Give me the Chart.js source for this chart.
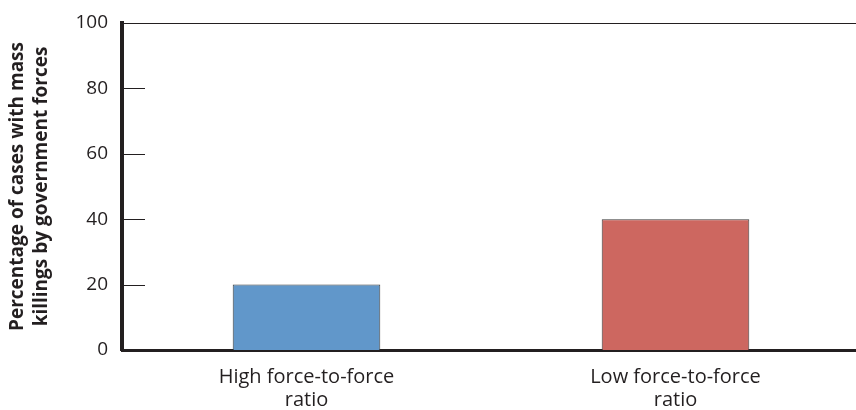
<!DOCTYPE html>
<html>
<head>
<meta charset="utf-8">
<script src="https://cdn.jsdelivr.net/npm/chart.js@4.4.1/dist/chart.umd.min.js"></script>
<style>
  html, body { margin: 0; padding: 0; background: #fff; overflow: hidden; }
  #wrap { width: 860px; height: 410px; }
</style>
</head>
<body>
<div id="wrap"><canvas id="grafico"></canvas></div>
<script>
// datos
const categorias = [["High force-to-force", "ratio"], ["Low force-to-force", "ratio"]];
const porcentajes = [20, 40];
const colores = ["#6197ca", "#cd6760"];
const ticksY = [0, 20, 40, 60, 80, 100];

const tinta = "#231f20";

// marcas cortas hacia adentro y linea superior
const marcasInternas = {
  id: "marcasInternas",
  afterDraw(chart) {
    const { ctx, chartArea, scales } = chart;
    const y = scales.y;
    ctx.save();
    ctx.strokeStyle = tinta;
    ctx.lineWidth = 1;
    ticksY.forEach(v => {
      if (v === 0) return;
      const py = Math.round(y.getPixelForValue(v)) + 0.5;
      ctx.beginPath();
      ctx.moveTo(chartArea.left, py);
      ctx.lineTo(v === 100 ? chart.width : chartArea.left + 23, py);
      ctx.stroke();
    });
    ctx.restore();
  }
};

new Chart(document.getElementById("grafico"), {
  type: "bar",
  data: {
    labels: categorias,
    datasets: [{
      data: porcentajes,
      backgroundColor: colores,
      borderColor: "#3a3a3a",
      borderWidth: 1,
      barPercentage: 0.4,
      categoryPercentage: 1
    }]
  },
  options: {
    responsive: true,
    maintainAspectRatio: false,
    animation: false,
    layout: { padding: { top: 23, left: 0, right: 0, bottom: 0 } },
    plugins: {
      legend: { display: false },
      tooltip: { enabled: false }
    },
    scales: {
      x: {
        afterFit: s => { s.height = 60; },
        grid: { display: false },
        border: { display: true, color: tinta, width: 3 },
        ticks: {
          color: tinta,
          padding: 8,
          font: { family: "Open Sans", size: 20, lineHeight: 1.15 },
          maxRotation: 0
        }
      },
      y: {
        min: 0,
        max: 100,
        afterFit: s => { s.width = 122; },
        afterBuildTicks: s => { s.ticks = ticksY.map(v => ({ value: v })); },
        grid: { display: false },
        border: { display: true, color: tinta, width: 4 },
        ticks: {
          color: tinta,
          padding: 6,
          font: { family: "Open Sans", size: 19 }
        },
        title: {
          display: true,
          text: ["Percentage of cases with mass", "killings by government forces"],
          color: tinta,
          font: { family: "Open Sans", size: 19, weight: "bold", lineHeight: 1.3 },
          padding: { top: 5, bottom: 0 }
        }
      }
    }
  },
  plugins: [marcasInternas]
});
</script>
</body>
</html>
